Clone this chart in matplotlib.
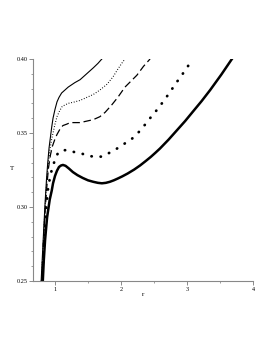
import matplotlib
matplotlib.use("Agg")
import matplotlib.pyplot as plt
from matplotlib.ticker import MultipleLocator

# curves (r, T)
r_thin = [0.79, 0.81, 0.83, 0.85, 0.87, 0.89, 0.91, 0.93, 0.95, 0.97, 1.00, 1.03, 1.06, 1.10, 1.15, 1.20, 1.25, 1.30, 1.38, 1.48, 1.58, 1.65, 1.71]
T_thin = [0.25, 0.268, 0.286, 0.303, 0.318, 0.330, 0.340, 0.347, 0.354, 0.360, 0.366, 0.371, 0.374, 0.377, 0.379, 0.381, 0.3825, 0.384, 0.386, 0.390, 0.394, 0.397, 0.40]

r_dot = [0.795, 0.82, 0.84, 0.86, 0.88, 0.90, 0.92, 0.95, 0.97, 1.00, 1.03, 1.07, 1.11, 1.20, 1.30, 1.38, 1.48, 1.58, 1.68, 1.79, 1.88, 1.95, 2.01, 2.06]
T_dot = [0.25, 0.273, 0.292, 0.308, 0.320, 0.330, 0.338, 0.346, 0.350, 0.356, 0.361, 0.365, 0.368, 0.370, 0.371, 0.372, 0.374, 0.376, 0.379, 0.383, 0.388, 0.393, 0.397, 0.40]

r_dash = [0.80, 0.82, 0.84, 0.86, 0.88, 0.90, 0.93, 0.96, 1.00, 1.03, 1.08, 1.12, 1.18, 1.23, 1.30, 1.38, 1.48, 1.58, 1.68, 1.76, 1.86, 1.95, 2.06, 2.15, 2.24, 2.34, 2.44]
T_dash = [0.25, 0.271, 0.289, 0.304, 0.316, 0.326, 0.335, 0.341, 0.346, 0.349, 0.353, 0.355, 0.356, 0.357, 0.357, 0.357, 0.358, 0.359, 0.361, 0.364, 0.369, 0.374, 0.381, 0.385, 0.389, 0.395, 0.40]

r_bdot = [0.805, 0.83, 0.85, 0.87, 0.89, 0.92, 0.95, 1.00, 1.04, 1.08, 1.18, 1.30, 1.41, 1.50, 1.60, 1.71, 1.80, 1.88, 1.98, 2.06, 2.14, 2.21, 2.30, 2.44, 2.57, 2.70, 2.87, 3.00, 3.05]
T_bdot = [0.25, 0.272, 0.288, 0.301, 0.311, 0.319, 0.325, 0.332, 0.336, 0.338, 0.3385, 0.337, 0.336, 0.3345, 0.334, 0.334, 0.336, 0.338, 0.3405, 0.343, 0.345, 0.348, 0.352, 0.360, 0.367, 0.375, 0.386, 0.394, 0.398]

r_thick = [0.815, 0.83, 0.85, 0.87, 0.88, 0.90, 0.92, 0.95, 0.97, 1.00, 1.03, 1.06, 1.09, 1.12, 1.16, 1.21, 1.27, 1.34, 1.42, 1.50, 1.58, 1.65, 1.71, 1.77, 1.83, 1.89, 1.95, 2.02, 2.10, 2.20, 2.29, 2.37, 2.45, 2.52, 2.59, 2.72, 2.85, 2.97, 3.09, 3.22, 3.35, 3.52, 3.68]
T_thick = [0.25, 0.264, 0.278, 0.288, 0.293, 0.299, 0.305, 0.311, 0.316, 0.321, 0.3245, 0.327, 0.328, 0.3284, 0.3278, 0.326, 0.3236, 0.3215, 0.3196, 0.318, 0.317, 0.3163, 0.316, 0.3163, 0.317, 0.318, 0.3192, 0.3207, 0.3226, 0.3253, 0.3281, 0.3309, 0.3338, 0.3366, 0.3395, 0.3455, 0.352, 0.358, 0.3645, 0.3715, 0.379, 0.3895, 0.40]

plt.rcParams['font.family'] = ['Liberation Serif', 'DejaVu Serif']

fig = plt.figure(figsize=(2.73, 3.53), dpi=100)
ax = fig.add_axes([0.121, 0.204, 0.806, 0.629])

ax.plot(r_thin, T_thin, color='black', lw=0.8)
ax.plot(r_dot, T_dot, color='black', lw=0.8, linestyle=(0, (0.8, 1.6)))
ax.plot(r_dash, T_dash, color='black', lw=0.9, linestyle=(0, (6, 3)))
ax.plot(r_bdot, T_bdot, color='black', lw=2.0, linestyle=(0, (0.1, 3.2)), dash_capstyle='round')
ax.plot(r_thick, T_thick, color='black', lw=1.8)

ax.set_xlim(0.667, 4.0)
ax.set_ylim(0.25, 0.40)
ax.xaxis.set_major_locator(MultipleLocator(1))
ax.xaxis.set_minor_locator(MultipleLocator(0.5))
ax.yaxis.set_major_locator(MultipleLocator(0.05))
ax.yaxis.set_minor_locator(MultipleLocator(0.01))
ax.yaxis.set_major_formatter(plt.FuncFormatter(lambda v, p: "%.2f" % v))

for s in ['top', 'right']:
    ax.spines[s].set_visible(False)
for s in ['left', 'bottom']:
    ax.spines[s].set_color('#888888')
    ax.spines[s].set_linewidth(0.8)

ax.tick_params(which='major', length=3, width=0.6, color='#777777', labelsize=4.5, pad=1)
ax.tick_params(which='minor', length=1.5, width=0.5, color='#777777')

fig.text(12 / 273, 1 - 168 / 353, 'T', fontsize=5, ha='center', va='center')
fig.text(143 / 273, 1 - 295 / 353, 'r', fontsize=5, ha='center', va='center')

fig.savefig('out.png', dpi=100)
